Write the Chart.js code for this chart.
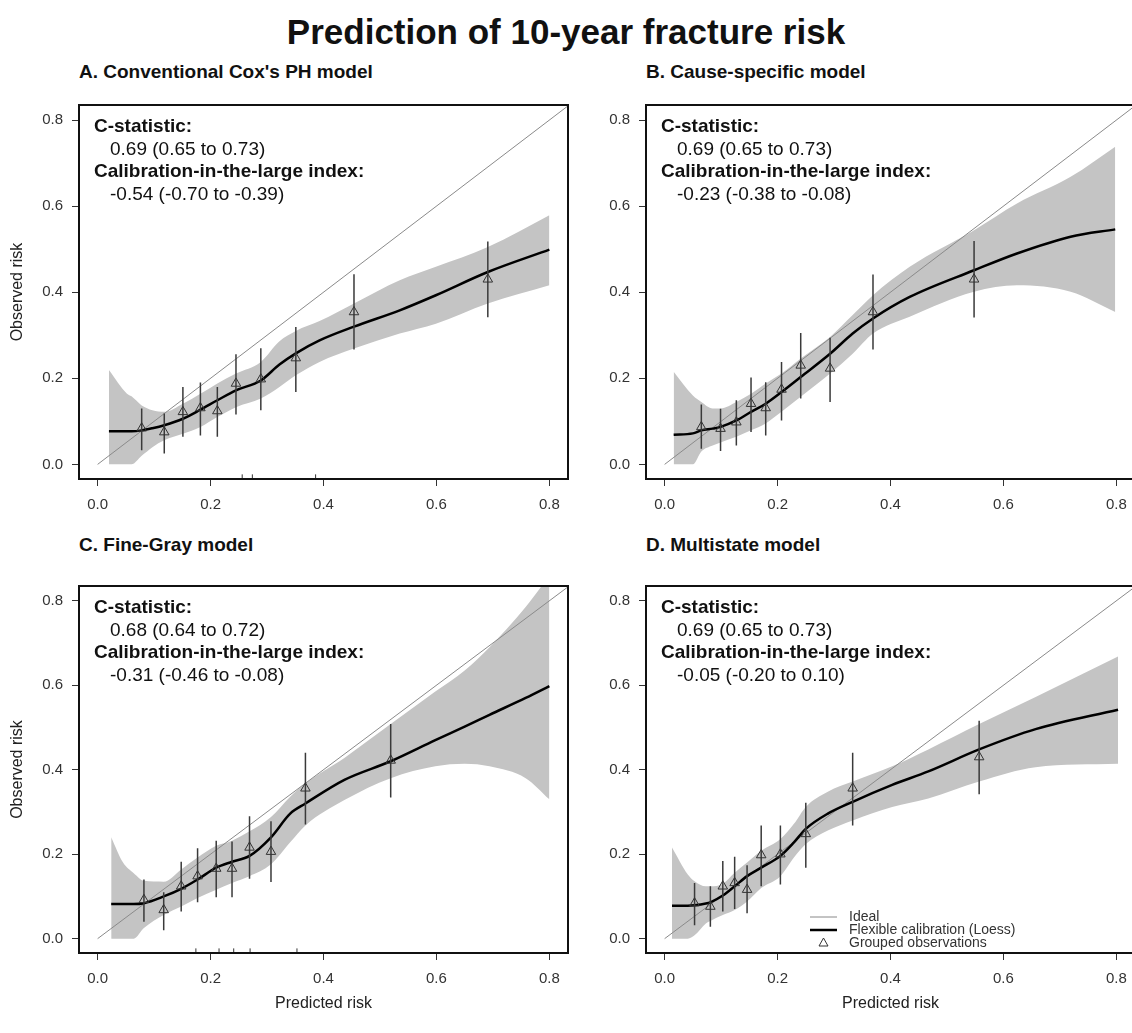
<!DOCTYPE html>
<html>
<head>
<meta charset="utf-8">
<script src="https://cdn.jsdelivr.net/npm/chart.js@4.4.1/dist/chart.umd.min.js"></script>
<style>
body{margin:0;background:#fff;overflow:hidden;}
#page{position:relative;width:1132px;height:1033px;overflow:hidden;background:#fff;font-family:"Liberation Sans",Arial,sans-serif;}
.t{position:absolute;font-weight:bold;color:#111;white-space:nowrap;line-height:1;}
canvas{position:absolute;}
</style>
</head>
<body>
<div id="page">
<div class="t" style="left:0;width:1132px;text-align:center;top:14px;font-size:35px">Prediction of 10-year fracture risk</div>
<div class="t" id="tA" style="left:79px;top:62px;font-size:19px"></div>
<div class="t" id="tB" style="left:646px;top:62px;font-size:19px"></div>
<div class="t" id="tC" style="left:79px;top:535px;font-size:19px"></div>
<div class="t" id="tD" style="left:646px;top:535px;font-size:19px"></div>
<canvas id="cA" width="580" height="440" style="left:0;top:95px"></canvas>
<canvas id="cB" width="580" height="440" style="left:567px;top:95px"></canvas>
<canvas id="cC" width="580" height="455" style="left:0;top:576px"></canvas>
<canvas id="cD" width="580" height="455" style="left:567px;top:576px"></canvas>
</div>
<script>
/* TEXT */

let panelTitles = ["A. Conventional Cox's PH model", "B. Cause-specific model", "C. Fine-Gray model", "D. Multistate model"];
let cStat = ["0.69 (0.65 to 0.73)", "0.69 (0.65 to 0.73)", "0.68 (0.64 to 0.72)", "0.69 (0.65 to 0.73)"];
let calIndex = ["-0.54 (-0.70 to -0.39)", "-0.23 (-0.38 to -0.08)", "-0.31 (-0.46 to -0.08)", "-0.05 (-0.20 to 0.10)"];
let legendLabels = ["Ideal", "Flexible calibration (Loess)", "Grouped observations"];
let axisTicks = [0, 0.2, 0.4, 0.6, 0.8];

/* A. COX */

let aGrid  = [0.02, 0.052, 0.06, 0.078, 0.097, 0.118, 0.151, 0.182, 0.212, 0.245, 0.289, 0.322, 0.351, 0.393, 0.454, 0.535, 0.599, 0.691, 0.80];
let aLoess = [0.077, 0.077, 0.077, 0.079, 0.084, 0.091, 0.106, 0.127, 0.149, 0.172, 0.195, 0.232, 0.258, 0.288, 0.320, 0.358, 0.393, 0.447, 0.499];
let aLower = [0.0, 0.0, 0.0, 0.02, 0.04, 0.056, 0.071, 0.087, 0.110, 0.133, 0.153, 0.180, 0.207, 0.238, 0.269, 0.304, 0.327, 0.374, 0.416];
let aUpper = [0.219, 0.164, 0.158, 0.137, 0.126, 0.122, 0.141, 0.164, 0.188, 0.211, 0.238, 0.286, 0.310, 0.333, 0.374, 0.428, 0.459, 0.505, 0.579];
let aPx = [0.078, 0.118, 0.151, 0.182, 0.212, 0.245, 0.289, 0.351, 0.454, 0.691];
let aPy = [0.084, 0.075, 0.122, 0.131, 0.124, 0.188, 0.198, 0.247, 0.354, 0.430];
let aLo = [0.033, 0.025, 0.064, 0.067, 0.064, 0.116, 0.126, 0.168, 0.267, 0.342];
let aHi = [0.130, 0.118, 0.180, 0.190, 0.180, 0.256, 0.270, 0.319, 0.442, 0.518];
let aRug = [0.256, 0.274, 0.386];

/* B. CAUSE-SPECIFIC */

let bGrid  = [0.016, 0.05, 0.065, 0.085, 0.099, 0.127, 0.153, 0.179, 0.207, 0.241, 0.293, 0.333, 0.369, 0.434, 0.548, 0.624, 0.719, 0.798];
let bLoess = [0.069, 0.072, 0.079, 0.083, 0.087, 0.102, 0.122, 0.141, 0.168, 0.203, 0.257, 0.304, 0.339, 0.389, 0.451, 0.490, 0.529, 0.546];
let bLower = [0.0, 0.0, 0.03, 0.044, 0.051, 0.064, 0.079, 0.095, 0.122, 0.157, 0.211, 0.257, 0.304, 0.343, 0.401, 0.416, 0.401, 0.354];
let bUpper = [0.215, 0.160, 0.145, 0.130, 0.130, 0.145, 0.164, 0.188, 0.211, 0.246, 0.296, 0.347, 0.393, 0.459, 0.544, 0.606, 0.668, 0.738];
let bPx = [0.065, 0.099, 0.127, 0.153, 0.179, 0.207, 0.241, 0.293, 0.369, 0.548];
let bPy = [0.087, 0.083, 0.098, 0.141, 0.131, 0.174, 0.230, 0.223, 0.354, 0.430];
let bLo = [0.036, 0.031, 0.044, 0.075, 0.067, 0.102, 0.153, 0.145, 0.267, 0.341];
let bHi = [0.139, 0.129, 0.149, 0.202, 0.191, 0.238, 0.305, 0.294, 0.441, 0.519];
let bRug = [];

/* C. FINE-GRAY */

let cGrid  = [0.024, 0.045, 0.064, 0.082, 0.117, 0.148, 0.177, 0.210, 0.238, 0.269, 0.307, 0.341, 0.368, 0.437, 0.519, 0.598, 0.65, 0.694, 0.758, 0.80];
let cLoess = [0.082, 0.082, 0.082, 0.084, 0.100, 0.118, 0.140, 0.168, 0.182, 0.196, 0.240, 0.296, 0.320, 0.376, 0.420, 0.470, 0.502, 0.530, 0.570, 0.598];
let cLower = [0.0, 0.0, 0.0, 0.025, 0.056, 0.076, 0.096, 0.116, 0.132, 0.148, 0.176, 0.228, 0.268, 0.328, 0.380, 0.408, 0.414, 0.408, 0.380, 0.330];
let cUpper = [0.240, 0.180, 0.155, 0.137, 0.135, 0.164, 0.192, 0.220, 0.232, 0.254, 0.288, 0.336, 0.368, 0.428, 0.508, 0.585, 0.635, 0.690, 0.785, 0.860];
let cPx = [0.082, 0.117, 0.148, 0.177, 0.210, 0.238, 0.269, 0.307, 0.368, 0.519];
let cPy = [0.092, 0.068, 0.124, 0.148, 0.166, 0.166, 0.216, 0.206, 0.356, 0.422];
let cLo = [0.040, 0.020, 0.064, 0.086, 0.098, 0.098, 0.142, 0.134, 0.270, 0.334];
let cHi = [0.140, 0.110, 0.182, 0.214, 0.232, 0.230, 0.290, 0.278, 0.440, 0.508];
let cRug = [0.174, 0.215, 0.241, 0.270, 0.353];

/* D. MULTISTATE */

let dGrid  = [0.013, 0.041, 0.053, 0.073, 0.081, 0.103, 0.124, 0.146, 0.171, 0.205, 0.229, 0.250, 0.289, 0.333, 0.403, 0.467, 0.557, 0.657, 0.803];
let dLoess = [0.078, 0.078, 0.079, 0.083, 0.086, 0.102, 0.124, 0.148, 0.168, 0.196, 0.228, 0.260, 0.296, 0.324, 0.364, 0.396, 0.448, 0.496, 0.542];
let dLower = [0.0, 0.0, 0.008, 0.036, 0.042, 0.056, 0.068, 0.088, 0.120, 0.148, 0.192, 0.224, 0.256, 0.280, 0.312, 0.332, 0.372, 0.406, 0.414];
let dUpper = [0.216, 0.152, 0.136, 0.124, 0.124, 0.130, 0.156, 0.180, 0.208, 0.236, 0.272, 0.312, 0.348, 0.372, 0.408, 0.448, 0.508, 0.572, 0.668];
let dPx = [0.053, 0.081, 0.103, 0.124, 0.146, 0.171, 0.205, 0.250, 0.333, 0.557];
let dPy = [0.084, 0.076, 0.124, 0.132, 0.116, 0.198, 0.200, 0.248, 0.356, 0.430];
let dLo = [0.032, 0.028, 0.064, 0.070, 0.060, 0.124, 0.128, 0.168, 0.268, 0.342];
let dHi = [0.132, 0.124, 0.184, 0.194, 0.174, 0.268, 0.268, 0.322, 0.440, 0.516];
let dRug = [];


const FONT = '"Liberation Sans", Arial, sans-serif';
const Y_MIN = -0.034, Y_MAX = 0.835;
Chart.defaults.font.family = FONT;
Chart.defaults.color = '#333';

function pts(xs, ys){
return xs.map((x,i)=>({x:x, y:ys[i]}));
}

function errBars(xs, lo, hi){
let out = [];
xs.forEach((x,i)=>{
out.push({x:x, y:lo[i]}, {x:x, y:hi[i]}, {x:x, y:null});
});
return out;
}

/* box, statistics text and legend */

const boxText = {
id:'boxText',
afterDatasetsDraw(chart, args, o){
let ctx = chart.ctx, a = chart.chartArea;
ctx.save();
ctx.strokeStyle = '#111';
ctx.lineWidth = 2;
ctx.strokeRect(a.left, a.top, a.right-a.left, a.bottom-a.top);

ctx.fillStyle = '#111';
ctx.textAlign = 'left';
ctx.textBaseline = 'alphabetic';
ctx.font = 'bold 19px ' + FONT;
ctx.fillText('C-statistic:', a.left+15, a.top+27);
ctx.fillText('Calibration-in-the-large index:', a.left+15, a.top+72);
ctx.font = '19px ' + FONT;
ctx.fillText(cStat[o.i], a.left+31, a.top+50);
ctx.fillText(calIndex[o.i], a.left+31, a.top+95);

if(o.legend){
let lx = a.left+164, tx = a.left+203;
let ys = [a.bottom-36, a.bottom-23, a.bottom-10];
ctx.strokeStyle = '#888'; ctx.lineWidth = 1;
ctx.beginPath(); ctx.moveTo(lx, ys[0]); ctx.lineTo(lx+27, ys[0]); ctx.stroke();
ctx.strokeStyle = '#000'; ctx.lineWidth = 2.5;
ctx.beginPath(); ctx.moveTo(lx, ys[1]); ctx.lineTo(lx+27, ys[1]); ctx.stroke();
ctx.strokeStyle = '#333'; ctx.lineWidth = 1;
let cx = lx+13.5, cy = ys[2];
ctx.beginPath(); ctx.moveTo(cx, cy-5); ctx.lineTo(cx+4.5, cy+3); ctx.lineTo(cx-4.5, cy+3); ctx.closePath(); ctx.stroke();
ctx.fillStyle = '#333';
ctx.font = '14px ' + FONT;
ctx.textBaseline = 'middle';
legendLabels.forEach((s,k)=>ctx.fillText(s, tx, ys[k]));
}
ctx.restore();
}
};

function makePanel(id, i, grid, loess, lower, upper, px, py, lo, hi, rug, bottomRow, leftCol){

let ctx = document.getElementById(id).getContext('2d');

new Chart(ctx,{
type:'scatter',
data:{
datasets:[
{data:pts(px,py), pointStyle:'triangle', pointRadius:5.5, pointBorderColor:'#333', pointBackgroundColor:'rgba(0,0,0,0)', pointBorderWidth:1, order:1},
{data:errBars(px,lo,hi), showLine:true, spanGaps:false, borderColor:'#3a3a3a', borderWidth:1.5, pointRadius:0, order:2},
{data:pts(grid,loess), showLine:true, borderColor:'#000', borderWidth:2.5, pointRadius:0, cubicInterpolationMode:'monotone', order:3},
{data:[{x:0,y:0},{x:0.9,y:0.9}], showLine:true, borderColor:'#8a8a8a', borderWidth:1, pointRadius:0, order:4},
{data:rug.map(x=>({x:x, y:Y_MIN+0.005})), pointStyle:'line', rotation:90, pointRadius:2.5, pointBorderColor:'#333', pointBorderWidth:1, order:4},
{data:pts(grid,lower), showLine:true, borderWidth:0, borderColor:'rgba(0,0,0,0)', pointRadius:0, cubicInterpolationMode:'monotone', fill:false, order:6},
{data:pts(grid,upper), showLine:true, borderWidth:0, borderColor:'rgba(0,0,0,0)', backgroundColor:'#c4c4c4', pointRadius:0, cubicInterpolationMode:'monotone', fill:'-1', order:5}
]
},
options:{
responsive:false,
animation:false,
devicePixelRatio:1,
layout:{padding:{top:10, right:12, left:0, bottom:0}},
plugins:{
legend:{display:false},
tooltip:{enabled:false},
boxText:{i:i, legend:i===3}
},
scales:{
x:{
type:'linear', min:-0.033, max:0.833,
afterBuildTicks:s=>{ s.ticks = axisTicks.map(v=>({value:v})); },
afterFit:s=>{ s.height = bottomRow ? 78 : 56; s.paddingLeft = 0; s.paddingRight = 0; },
border:{display:false},
grid:{drawOnChartArea:false, tickLength:7, color:'#333'},
ticks:{padding:10, color:'#333', font:{size:15}, maxRotation:0, callback:v=>v.toFixed(1)},
title:{display:bottomRow, text:'Predicted risk', color:'#222', font:{size:16}, padding:{bottom:18}}
},
y:{
type:'linear', min:Y_MIN, max:Y_MAX,
afterBuildTicks:s=>{ s.ticks = axisTicks.map(v=>({value:v})); },
afterFit:s=>{ s.width = 79; s.paddingTop = 0; s.paddingBottom = 0; },
border:{display:false},
grid:{drawOnChartArea:false, tickLength:7, color:'#333'},
ticks:{padding:9, color:'#333', font:{size:15}, callback:v=>v.toFixed(1)},
title:{display:leftCol, text:'Observed risk', color:'#222', font:{size:16}, padding:{top:8}}
}
}
},
plugins:[boxText]
});

}

['tA','tB','tC','tD'].forEach((id,k)=>{ document.getElementById(id).textContent = panelTitles[k]; });

makePanel('cA', 0, aGrid, aLoess, aLower, aUpper, aPx, aPy, aLo, aHi, aRug, false, true);
makePanel('cB', 1, bGrid, bLoess, bLower, bUpper, bPx, bPy, bLo, bHi, bRug, false, false);
makePanel('cC', 2, cGrid, cLoess, cLower, cUpper, cPx, cPy, cLo, cHi, cRug, true, true);
makePanel('cD', 3, dGrid, dLoess, dLower, dUpper, dPx, dPy, dLo, dHi, dRug, true, false);
</script>
</body>
</html>
